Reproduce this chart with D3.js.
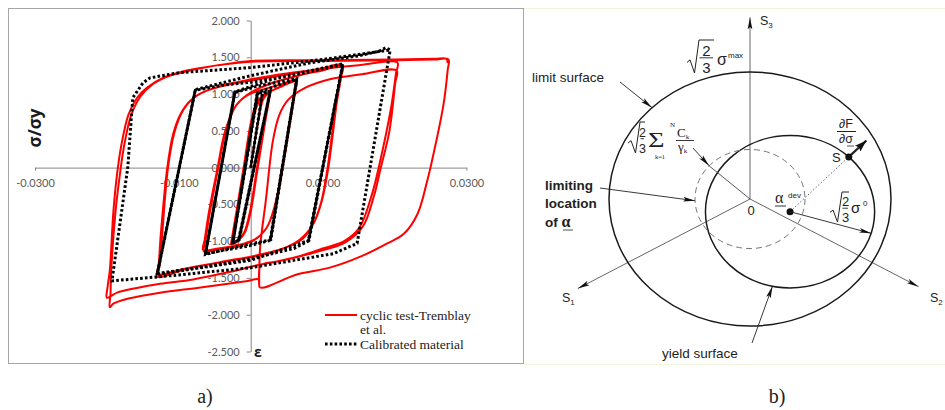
<!DOCTYPE html>
<html>
<head>
<meta charset="utf-8">
<script src="https://cdn.jsdelivr.net/npm/d3@7"></script>
<style>
    body { margin: 0; background: #fff; }
    svg { display: block; }
    .axis text { font-family: Lato, 'Open Sans', sans-serif; font-size: 11px; fill: #595959; }
    .axis line, .axis path { stroke: #868686; }
    .lbl { font-family: 'Liberation Sans', Arial, sans-serif; fill: #222; }
    .mth { font-family: 'Liberation Serif', 'Times New Roman', serif; fill: #222; }
</style>
</head>
<body>
<svg id="fig" width="945" height="410"></svg>
<script>

// ---- data, panel a) ----
const xTicks = [-0.03, -0.01, 0.01, 0.03];
const yTicks = [2, 1.5, 1, 0.5, 0, -0.5, -1, -1.5, -2, -2.5];

// test (strain, sigma/sigma_y)
const testCycle1 = [
    [0, 0], [0.0010, 0.6], [0.0017, 0.92], [0.0022, 0.99], [0.0027, 1.02], [0.0026, 0.95],
    [0.0019, 0.55], [0.0009, -0.05], [0.0000, -0.6], [-0.0008, -0.88], [-0.0017, -0.99], [-0.0027, -1.04], [-0.0026, -0.96],
    [-0.0019, -0.55], [-0.0009, 0.05], [0.0000, 0.6], [0.0008, 0.88], [0.0017, 0.98], [0.0026, 1.03], [0.0025, 0.95],
    [0.0018, 0.55], [0.0008, -0.05], [-0.0001, -0.6], [-0.0009, -0.88], [-0.0018, -0.99], [-0.0026, -1.03]
];
const testCycle2 = [
    [-0.0025, -0.95], [-0.0018, -0.55], [-0.0008, 0.05], [0.0002, 0.62], [0.0012, 0.9], [0.0025, 1.02], [0.0042, 1.1], [0.0063, 1.17], [0.0061, 1.02],
    [0.0054, 0.6], [0.0044, 0.0], [0.0034, -0.5], [0.0022, -0.82], [0.0005, -0.98], [-0.0020, -1.06], [-0.0045, -1.1], [-0.0066, -1.12], [-0.0064, -0.98],
    [-0.0058, -0.6], [-0.0046, 0.0], [-0.0036, 0.48], [-0.0022, 0.82], [-0.0005, 0.98], [0.0020, 1.07], [0.0042, 1.13], [0.0064, 1.19], [0.0062, 1.04],
    [0.0055, 0.62], [0.0045, 0.02], [0.0035, -0.48], [0.0022, -0.82], [0.0004, -0.99], [-0.0020, -1.07], [-0.0045, -1.11], [-0.0065, -1.14]
];
const testCycle3 = [
    [-0.0063, -1.0], [-0.0057, -0.62], [-0.0045, 0.0], [-0.0034, 0.52], [-0.0020, 0.85], [0.0000, 1.02], [0.0030, 1.15], [0.0070, 1.26], [0.0100, 1.32], [0.0128, 1.38], [0.0126, 1.24],
    [0.0120, 0.9], [0.0108, 0.0], [0.0099, -0.45], [0.0088, -0.75], [0.0072, -0.97], [0.0045, -1.1], [0.0005, -1.2], [-0.0040, -1.28], [-0.0090, -1.38], [-0.0130, -1.48], [-0.0128, -1.32],
    [-0.0125, -0.9], [-0.0116, 0.0], [-0.0108, 0.45], [-0.0098, 0.72], [-0.0083, 0.92], [-0.0060, 1.05], [-0.0030, 1.13], [0.0010, 1.2], [0.0060, 1.28], [0.0100, 1.35], [0.0127, 1.40], [0.0125, 1.26],
    [0.0119, 0.92], [0.0107, 0.0], [0.0098, -0.47], [0.0086, -0.78], [0.0068, -0.98], [0.0040, -1.12], [0.0000, -1.22], [-0.0050, -1.3], [-0.0095, -1.38], [-0.0128, -1.45]
];
const testCycle4 = [
    [-0.0126, -1.3], [-0.0123, -0.9], [-0.0115, 0.0], [-0.0106, 0.48], [-0.0094, 0.78], [-0.0075, 0.98], [-0.0045, 1.1], [0.0000, 1.2], [0.0050, 1.28], [0.0100, 1.34], [0.0150, 1.39], [0.0204, 1.43], [0.0202, 1.28],
    [0.0195, 0.8], [0.0178, 0.0], [0.0169, -0.35], [0.0151, -0.82], [0.0130, -1.0], [0.0100, -1.1], [0.0069, -1.2], [0.0035, -1.28], [0.0014, -1.33], [0.0012, -1.62],
    [0.0013, -1.1], [0.0021, -0.45], [0.0031, 0.37], [0.0040, 0.72], [0.0052, 0.92], [0.0075, 1.08], [0.0110, 1.2], [0.0155, 1.27], [0.0203, 1.32], [0.0201, 1.15],
    [0.0193, 0.5], [0.0181, 0.0], [0.0171, -0.4], [0.0156, -0.8], [0.0131, -1.02], [0.0090, -1.15], [0.0050, -1.25], [0.0012, -1.32], [-0.0030, -1.42], [-0.0080, -1.52], [-0.0126, -1.58], [-0.0160, -1.64], [-0.0186, -1.70], [-0.0200, -1.77]
];
const testCycle5 = [
    [-0.0199, -1.62], [-0.0196, -1.4], [-0.0191, -0.6], [-0.0186, -0.1], [-0.0180, 0.3], [-0.0170, 0.72], [-0.0158, 0.95], [-0.0144, 1.09], [-0.0122, 1.22], [-0.0089, 1.32], [-0.0047, 1.39], [0.0000, 1.44], [0.0100, 1.45], [0.0200, 1.46], [0.0255, 1.47], [0.0275, 1.47], [0.0274, 1.33],
    [0.0268, 0.85], [0.0250, 0.0], [0.0245, -0.2], [0.0232, -0.63], [0.0213, -0.9], [0.0190, -1.03], [0.0155, -1.2], [0.0110, -1.36], [0.0065, -1.45], [0.0013, -1.63], [0.0011, -1.52], [-0.0004, -1.54], [-0.0070, -1.63], [-0.0126, -1.70], [-0.0170, -1.78], [-0.0191, -1.85], [-0.0196, -1.90], [-0.0195, -1.72],
    [-0.0194, -1.4], [-0.0188, -0.6], [-0.0182, -0.1], [-0.0176, 0.3], [-0.0166, 0.72], [-0.0153, 0.97], [-0.0138, 1.12], [-0.0115, 1.24], [-0.0080, 1.33], [-0.0040, 1.40], [0.0000, 1.45], [0.0100, 1.46], [0.0200, 1.47], [0.0255, 1.48], [0.0272, 1.48],
    [0.0274, 1.42]
];

// calibrated material
const calibrated = [
    [0, 0], [0.0016, 1.0], [0.0027, 1.03],
    [-0.0017, -0.99], [-0.0025, -1.02],
    [0.0009, 1.01], [0.0027, 1.04],
    [-0.0016, -0.98], [-0.0025, -1.03],
    [0.0010, 1.02], [0.0035, 1.11], [0.0064, 1.20],
    [0.0027, -0.99], [0.0000, -1.06], [-0.0035, -1.12], [-0.0063, -1.17],
    [-0.0022, 1.02], [0.0010, 1.11], [0.0064, 1.21],
    [0.0028, -0.98], [-0.0030, -1.10], [-0.0063, -1.18],
    [-0.0022, 1.03], [0.0030, 1.20], [0.0080, 1.30], [0.0128, 1.40],
    [0.0080, -1.0], [0.0060, -1.10], [0.0000, -1.24], [-0.0060, -1.34], [-0.0130, -1.44],
    [-0.0077, 1.05], [-0.0040, 1.12], [0.0000, 1.16], [0.0037, 1.22], [0.0080, 1.31], [0.0128, 1.41],
    [0.0081, -0.99], [0.0000, -1.26], [-0.0130, -1.45],
    [-0.0077, 1.06], [0.0000, 1.25], [0.0080, 1.42], [0.0150, 1.52], [0.0178, 1.58], [0.0188, 1.63], [0.0194, 1.60],
    [0.0148, -1.03], [0.0115, -1.17], [0.0000, -1.36], [-0.0100, -1.46], [-0.0193, -1.54],
    [-0.0171, 0.0], [-0.0164, 0.95], [-0.0150, 1.15], [-0.0140, 1.22], [-0.0100, 1.29], [0.0000, 1.36], [0.0100, 1.47], [0.0180, 1.58], [0.0194, 1.60]
];

const legendLabels = ['cyclic test-Tremblay', 'et al.', 'Calibrated material'];

// ---- data, panel b) (deviatoric plane, limit surface radius = 1) ----
const limitRadius = 1;
const yieldRadius = 0.6;
const backLimitRadius = 0.39;
const alphaDev = [0.284, -0.10];
const normalAngle = 46;
const axisAngles = {s1: 210, s2: -30, s3: 90};
const axisLengths = {s1: 1.41, s2: 1.38, s3: 1.43};


let svg = d3.select('#fig');

// ================= panel a) =================
let x = d3.scaleLinear().domain([-0.03, 0.03]).range([35, 466.4]);
let y = d3.scaleLinear().domain([-2.5, 2]).range([351.5, 20.5]);

svg.append('rect')
    .attr('x', 8.5).attr('y', 8.5)
    .attr('width', 515).attr('height', 355)
    .attr('fill', 'none')
    .attr('stroke', '#a6a6a6');

svg.append('g')
    .attr('class', 'axis')
    .attr('transform', 'translate(0,' + y(0) + ')')
    .call(d3.axisBottom(x).tickValues(xTicks)
        .tickFormat(d => d.toFixed(4))
        .tickSize(3).tickSizeOuter(0).tickPadding(9));

svg.append('g')
    .attr('class', 'axis')
    .attr('transform', 'translate(' + x(0) + ',0)')
    .call(d3.axisLeft(y).tickValues(yTicks)
        .tickFormat(d => d.toFixed(3))
        .tickSize(4).tickSizeOuter(0).tickPadding(7));

let line = d3.line()
    .x(d => x(d[0]))
    .y(d => y(d[1]));

// test curves (smoothed knees)
let testPath = [].concat(testCycle1, testCycle2, testCycle3, testCycle4, testCycle5);
svg.append('path')
    .datum(testPath)
    .attr('d', line.curve(d3.curveCatmullRom.alpha(0.5)))
    .attr('fill', 'none')
    .attr('stroke', '#ff0000')
    .attr('stroke-width', 2)
    .attr('stroke-linejoin', 'round');
line.curve(d3.curveLinear);

// calibrated: dotted, steep inner parts look solid in the original
svg.append('path')
    .datum(calibrated)
    .attr('d', line)
    .attr('fill', 'none')
    .attr('stroke', '#000')
    .attr('stroke-width', 3)
    .attr('stroke-dasharray', '2.6,2.2');

let steep = [];
for (let i = 1; i < calibrated.length; i++) {
    let a = calibrated[i - 1], b = calibrated[i];
    let sx = Math.abs(x(b[0]) - x(a[0])), sy = Math.abs(y(b[1]) - y(a[1]));
    if (sy > 3 * sx && Math.max(Math.abs(a[0]), Math.abs(b[0])) < 0.014) steep.push([a, b]);
}
svg.selectAll('line.steep')
    .data(steep)
    .enter()
    .append('line')
    .attr('class', 'steep')
    .attr('x1', d => x(d[0][0])).attr('y1', d => y(d[0][1]))
    .attr('x2', d => x(d[1][0])).attr('y2', d => y(d[1][1]))
    .attr('stroke', '#000')
    .attr('stroke-width', 2);

// axis titles
svg.append('text')
    .attr('transform', 'translate(41,128) rotate(-90)')
    .attr('text-anchor', 'middle')
    .style('font-family', "'Open Sans', sans-serif")
    .style('font-weight', 'bold')
    .style('font-size', '17px')
    .attr('fill', '#1a1a1a')
    .text('σ/σy');

svg.append('text')
    .attr('x', 254).attr('y', 357)
    .style('font-family', "'Open Sans', sans-serif")
    .style('font-weight', 'bold')
    .style('font-size', '14px')
    .attr('fill', '#1a1a1a')
    .text('ε');

// legend
let legend = svg.append('g').attr('class', 'legend');
legend.append('line')
    .attr('x1', 325).attr('x2', 357).attr('y1', 315).attr('y2', 315)
    .attr('stroke', '#ff0000').attr('stroke-width', 2);
legend.append('line')
    .attr('x1', 325).attr('x2', 357).attr('y1', 344).attr('y2', 344)
    .attr('stroke', '#000').attr('stroke-width', 3).attr('stroke-dasharray', '2.6,2.2');
legend.selectAll('text')
    .data(legendLabels)
    .enter()
    .append('text')
    .attr('x', 360)
    .attr('y', (d, i) => [319.5, 333.5, 348.5][i])
    .attr('class', 'mth')
    .style('font-size', '13.5px')
    .attr('fill', '#404040')
    .text(d => d);

// ================= panel b) =================
let ox = d3.scaleLinear().domain([-1, 1]).range([609, 891]);
let oy = d3.scaleLinear().domain([-1, 1]).range([326, 72]);

function pt(c, r, deg) {
    let a = deg * Math.PI / 180;
    return [c[0] + r * Math.cos(a), c[1] + r * Math.sin(a)];
}
function px(p) { return [ox(p[0]), oy(p[1])]; }

let defs = svg.append('defs');
defs.append('marker')
    .attr('id', 'arr')
    .attr('viewBox', '0 0 12 6')
    .attr('refX', 12).attr('refY', 3)
    .attr('markerWidth', 12).attr('markerHeight', 6)
    .attr('markerUnits', 'userSpaceOnUse')
    .attr('orient', 'auto')
    .append('path')
    .attr('d', 'M0,0.6 L12,3 L0,5.4 L2.5,3 Z')
    .attr('fill', '#111');
defs.append('marker')
    .attr('id', 'arrBig')
    .attr('viewBox', '0 0 12 8')
    .attr('refX', 12).attr('refY', 4)
    .attr('markerWidth', 12).attr('markerHeight', 8)
    .attr('markerUnits', 'userSpaceOnUse')
    .attr('orient', 'auto')
    .append('path')
    .attr('d', 'M0,0 L12,4 L0,8 L2,4 Z')
    .attr('fill', '#111');

let b = svg.append('g').attr('class', 'panel-b');

// faint frame of the scanned figure
b.append('line').attr('x1', 524).attr('x2', 945).attr('y1', 8.5).attr('y2', 8.5).attr('stroke', '#f3f3dc');
b.append('line').attr('x1', 524).attr('x2', 945).attr('y1', 364.5).attr('y2', 364.5).attr('stroke', '#f3f3dc');

function ellipse(c, r) {
    return b.append('ellipse')
        .attr('cx', ox(c[0])).attr('cy', oy(c[1]))
        .attr('rx', ox(r) - ox(0)).attr('ry', oy(0) - oy(r))
        .attr('fill', 'none');
}
function arrow(p0, p1, marker, w) {
    let a = px(p0), c = px(p1);
    let l = b.append('line')
        .attr('x1', a[0]).attr('y1', a[1]).attr('x2', c[0]).attr('y2', c[1])
        .attr('stroke', '#222').attr('stroke-width', w || 0.9);
    if (marker) l.attr('marker-end', 'url(#' + marker + ')');
    return l;
}
function pxArrow(a, p1, marker) {
    let c = px(p1);
    return b.append('line')
        .attr('x1', a[0]).attr('y1', a[1]).attr('x2', c[0]).attr('y2', c[1])
        .attr('stroke', '#222').attr('stroke-width', 0.9)
        .attr('marker-end', 'url(#' + marker + ')');
}

// principal axes
['s1', 's2', 's3'].forEach(k => {
    arrow([0, 0], pt([0, 0], axisLengths[k], axisAngles[k]), 'arr').attr('stroke', '#555');
});

ellipse([0, 0], limitRadius).attr('stroke', '#1a1a1a').attr('stroke-width', 1.5);
ellipse(alphaDev, yieldRadius).attr('stroke', '#1a1a1a').attr('stroke-width', 1.5);
ellipse([0, 0], backLimitRadius).attr('stroke', '#777').attr('stroke-width', 1).attr('stroke-dasharray', '6,4');

// arrows and leaders
let sPoint = pt(alphaDev, yieldRadius, normalAngle);
pxArrow([620, 82], pt([0, 0], limitRadius, 134), 'arr');
pxArrow([600, 188], pt([0, 0], backLimitRadius, 182), 'arr');
pxArrow([693, 148], pt([0, 0], backLimitRadius, 138), 'arr');
arrow(pt([0, 0], backLimitRadius, 138), [0, 0]).attr('stroke', '#444');
pxArrow([752, 343], pt(alphaDev, yieldRadius, -102), 'arr');
arrow(alphaDev, pt(alphaDev, yieldRadius, -16.5), 'arr');
arrow(alphaDev, sPoint).attr('stroke-dasharray', '1.5,2').attr('stroke', '#555');
arrow(sPoint, pt(alphaDev, yieldRadius + 0.18, normalAngle), 'arrBig', 2.2);

[alphaDev, sPoint].forEach(p => {
    b.append('circle').attr('cx', ox(p[0])).attr('cy', oy(p[1])).attr('r', 3.5).attr('fill', '#111');
});

// plain labels
function label(txt, xx, yy, size, weight, anchor) {
    return b.append('text')
        .attr('class', 'lbl')
        .attr('x', xx).attr('y', yy)
        .attr('text-anchor', anchor || 'start')
        .style('font-size', size + 'px')
        .style('font-weight', weight || 'normal')
        .text(txt);
}
label('limit surface', 532, 82, 13.5);
label('limiting', 545, 190, 13.5, 'bold');
label('location', 545, 208, 13.5, 'bold');
let ofA = label('of ', 545, 227, 13.5, 'bold');
ofA.append('tspan').attr('class', 'mth').style('font-size', '16px').text('α');
b.append('line').attr('x1', 563).attr('x2', 573).attr('y1', 230).attr('y2', 230).attr('stroke', '#555');
label('yield surface', 662, 358, 13.5);
label('0', 751, 215, 13, 'normal', 'middle');
label('S', 832, 162, 13);

function axisLabel(name, sub, xx, yy) {
    let t = label(name, xx, yy, 12.5);
    t.append('tspan').attr('dy', 3).style('font-size', '8px').text(sub);
}
axisLabel('S', '3', 760, 25);
axisLabel('S', '1', 562, 302);
axisLabel('S', '2', 930, 302);

// square-root sign with 2/3 under it
function sqrt23(x0, yTop, yBot, xEnd, size) {
    let h = yBot - yTop;
    b.append('path')
        .attr('d', 'M' + x0 + ',' + (yTop + 0.68 * h) + ' L' + (x0 + 3) + ',' + (yTop + 0.6 * h) +
            ' L' + (x0 + 7.5) + ',' + yBot + ' L' + (x0 + 12) + ',' + yTop + ' L' + xEnd + ',' + yTop)
        .attr('fill', 'none').attr('stroke', '#222').attr('stroke-width', 1);
    let cx = (x0 + 12 + xEnd) / 2;
    label('2', cx, yTop + h * 0.47, size, 'normal', 'middle');
    b.append('line').attr('x1', x0 + 12.5).attr('x2', xEnd - 1)
        .attr('y1', yTop + h * 0.54).attr('y2', yTop + h * 0.54)
        .attr('stroke', '#222').attr('stroke-width', 0.9);
    label('3', cx, yBot - 0.5, size, 'normal', 'middle');
}

// sqrt(2/3) sigma^max
sqrt23(687, 40, 73, 714, 15);
label('σ', 717, 65, 16);
label('max', 728, 58, 8);

// sqrt(2/3) sum C_k / gamma_k
sqrt23(628, 122, 153, 645, 12.5);
b.append('text').attr('class', 'mth')
    .attr('transform', 'translate(648,147) scale(1.35,1)')
    .style('font-size', '21px').text('Σ');
b.append('text').attr('class', 'mth').attr('x', 670).attr('y', 127).style('font-size', '7px').text('N');
b.append('text').attr('class', 'mth').attr('x', 660).attr('y', 159).attr('text-anchor', 'middle').style('font-size', '6.5px').text('k=1');
let ck = b.append('text').attr('class', 'mth').attr('x', 677).attr('y', 137).style('font-size', '13px').text('C');
ck.append('tspan').attr('dy', 2).style('font-size', '7px').text('k');
b.append('line').attr('x1', 676).attr('x2', 694).attr('y1', 140.5).attr('y2', 140.5).attr('stroke', '#222').attr('stroke-width', 0.9);
let gk = b.append('text').attr('class', 'mth').attr('x', 678).attr('y', 151).style('font-size', '13px').text('γ');
gk.append('tspan').attr('dy', 2).style('font-size', '7px').text('k');

// sqrt(2/3) sigma^0
sqrt23(830, 192, 222, 849, 13);
label('σ', 851, 213, 15);
label('0', 863, 206, 8);

// dF/dsigma
label('∂F', 846, 128, 12.5, 'normal', 'middle');
b.append('line').attr('x1', 837).attr('x2', 856).attr('y1', 131.5).attr('y2', 131.5).attr('stroke', '#222');
label('∂σ', 846, 143, 12.5, 'normal', 'middle');
b.append('line').attr('x1', 847).attr('x2', 854).attr('y1', 146).attr('y2', 146).attr('stroke', '#555');

// alpha^dev
b.append('text').attr('class', 'mth').attr('x', 775).attr('y', 203).style('font-size', '16px').text('α');
b.append('line').attr('x1', 775).attr('x2', 786).attr('y1', 206).attr('y2', 206).attr('stroke', '#333');
label('dev', 788, 198, 8);

// captions
svg.append('text').attr('class', 'mth').attr('x', 205).attr('y', 403)
    .attr('text-anchor', 'middle').style('font-size', '20px').attr('fill', '#111').text('a)');
svg.append('text').attr('class', 'mth').attr('x', 777).attr('y', 403)
    .attr('text-anchor', 'middle').style('font-size', '20px').attr('fill', '#111').text('b)');

</script>
</body>
</html>
